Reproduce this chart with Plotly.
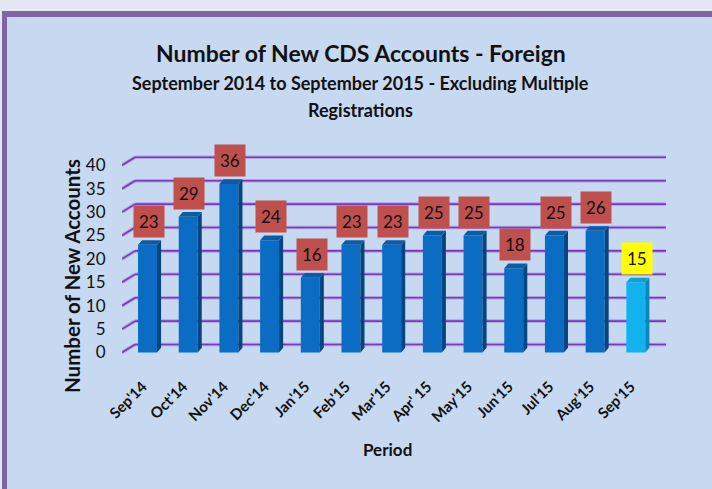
import plotly.graph_objects as go

# ---------------- data ----------------
periods = ["Sep'14", "Oct'14", "Nov'14", "Dec'14", "Jan'15", "Feb'15", "Mar'15",
           "Apr' 15", "May'15", "Jun'15", "Jul'15", "Aug'15", "Sep'15"]
accounts = [23, 29, 36, 24, 16, 23, 23, 25, 25, 18, 25, 26, 15]
y_ticks = [0, 5, 10, 15, 20, 25, 30, 35, 40]

title_text = "Number of New CDS Accounts - Foreign"
subtitle_1 = "September 2014 to September 2015 - Excluding Multiple"
subtitle_2 = "Registrations"
y_title = "Number of New Accounts"
x_title = "Period"

# ---------------- style / geometry ----------------
W, H = 712, 489
ML, MR, MT, MB = 122, 42, 150, 129
PW, PH = W - ML - MR, H - MT - MB
FONT = "Lato, 'Open Sans', sans-serif"
BG = "#c6d9f1"

X_RANGE = [-0.627, 12.84]
Y_RANGE = [-1.60, 43.27]

bar_w = 0.466
depth_dx, depth_dy = 0.10, 1.0      # bar 3D depth (data units)
grid_dx, grid_dy = 0.32, 1.71       # back-wall offset of gridlines
grid_x0, grid_x1 = X_RANGE[0], 12.74

front_col = ["#0a6cc2"] * (len(accounts) - 1) + ["#12b2ee"]
side_col = ["#05467e"] * (len(accounts) - 1) + ["#0a86b8"]
top_col = ["#0a5ca6"] * (len(accounts) - 1) + ["#10a0d8"]
label_bg = ["#c0504d"] * (len(accounts) - 1) + ["#ffff00"]


def px(xp):
    return (xp - ML) / PW


def py(yp):
    return (H - MB - yp) / PH


xs = list(range(len(periods)))

fig = go.Figure()

# front faces
fig.add_trace(go.Bar(x=xs, y=accounts, width=bar_w,
                     marker=dict(color=front_col, line=dict(width=0)),
                     hoverinfo="skip", showlegend=False))

# side and top faces
for i, v in enumerate(accounts):
    h = bar_w / 2
    sx = [i + h, i + h + depth_dx, i + h + depth_dx, i + h, i + h]
    sy = [0, depth_dy, v + depth_dy, v, 0]
    fig.add_trace(go.Scatter(x=sx, y=sy, mode="lines", fill="toself",
                             fillcolor=side_col[i], line=dict(width=0),
                             hoverinfo="skip", showlegend=False))
    tx = [i - h, i - h + depth_dx, i + h + depth_dx, i + h, i - h]
    ty = [v, v + depth_dy, v + depth_dy, v, v]
    fig.add_trace(go.Scatter(x=tx, y=ty, mode="lines", fill="toself",
                             fillcolor=top_col[i], line=dict(width=0),
                             hoverinfo="skip", showlegend=False))

shapes = []
# page decoration
shapes.append(dict(type="rect", xref="paper", yref="paper",
                   x0=px(0), x1=px(W), y0=py(11), y1=py(0),
                   fillcolor="#e5e6f3", line=dict(width=0), layer="below"))
shapes.append(dict(type="rect", xref="paper", yref="paper",
                   x0=px(0), x1=px(W), y0=py(17), y1=py(11),
                   fillcolor="#8064a2", line=dict(width=0), layer="below"))
shapes.append(dict(type="rect", xref="paper", yref="paper",
                   x0=px(0), x1=px(2), y0=py(H), y1=py(11),
                   fillcolor="#e5e6f3", line=dict(width=0), layer="below"))
shapes.append(dict(type="rect", xref="paper", yref="paper",
                   x0=px(2), x1=px(7), y0=py(H), y1=py(11),
                   fillcolor="#8064a2", line=dict(width=0), layer="below"))

# perspective gridlines
for t in y_ticks:
    for wdt, col in ((3.5, "rgba(160,120,215,0.55)"), (1.6, "#7a38bf")):
        shapes.append(dict(type="line", xref="x", yref="y", layer="below",
                           x0=grid_x0, y0=t, x1=grid_x0 + grid_dx, y1=t + grid_dy,
                           line=dict(color=col, width=wdt)))
        shapes.append(dict(type="line", xref="x", yref="y", layer="below",
                           x0=grid_x0 + grid_dx, y0=t + grid_dy, x1=grid_x1, y1=t + grid_dy,
                           line=dict(color=col, width=wdt)))

annotations = []
for i, v in enumerate(accounts):
    annotations.append(dict(x=i + 0.03, y=v, xref="x", yref="y", text=str(v),
                            showarrow=False, xanchor="center", yanchor="bottom", yshift=7,
                            bgcolor=label_bg[i], borderpad=5,
                            font=dict(family=FONT, size=17, color="#111111")))


def paper_text(x, y, text, size, angle=0):
    return dict(x=px(x), y=py(y), xref="paper", yref="paper", text="<b>%s</b>" % text,
                showarrow=False, xanchor="center", yanchor="middle", textangle=angle,
                font=dict(family=FONT, size=size, color="#111111"))


annotations += [
    paper_text(361, 53, title_text, 23),
    paper_text(360, 83, subtitle_1, 18),
    paper_text(360, 110, subtitle_2, 18),
    paper_text(72, 276, y_title, 20.5, -90),
    paper_text(387, 449, x_title, 17),
]

fig.update_layout(
    width=W, height=H,
    margin=dict(l=ML, r=MR, t=MT, b=MB, pad=0),
    paper_bgcolor=BG, plot_bgcolor="rgba(0,0,0,0)",
    shapes=shapes, annotations=annotations,
    showlegend=False,
    xaxis=dict(range=X_RANGE, tickmode="array", tickvals=xs, ticktext=["<b>%s</b>" % p for p in periods],
               tickangle=-45, showgrid=False, zeroline=False, showline=False,
               ticks="outside", ticklen=11, tickcolor="rgba(0,0,0,0)", ticklabelshift=-5,
               tickfont=dict(family=FONT, size=15, color="#111111"), fixedrange=True),
    yaxis=dict(range=Y_RANGE, tickmode="array", tickvals=y_ticks, showgrid=False,
               zeroline=False, showline=False,
               ticks="outside", ticklen=12, tickcolor="rgba(0,0,0,0)",
               tickfont=dict(family=FONT, size=17, color="#111111"), fixedrange=True),
)

fig.write_html("out.html")
